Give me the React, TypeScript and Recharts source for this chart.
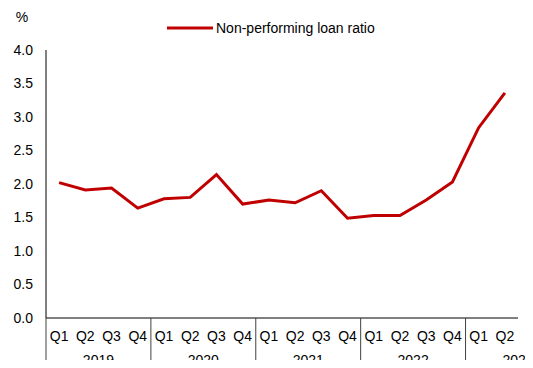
import { LineChart, Line, XAxis, YAxis, Label } from "recharts"

const years = ["2019", "2020", "2021", "2022", "2023"]
const quarters = ["Q1", "Q2", "Q3", "Q4", "Q1", "Q2", "Q3", "Q4", "Q1", "Q2", "Q3", "Q4", "Q1", "Q2", "Q3", "Q4", "Q1", "Q2"]
const nplRatio = [2.02, 1.91, 1.94, 1.64, 1.78, 1.8, 2.14, 1.7, 1.76, 1.72, 1.9, 1.49, 1.53, 1.53, 1.76, 2.03, 2.84, 3.36]
const yTicks = [0, 0.5, 1, 1.5, 2, 2.5, 3, 3.5, 4]

const RED = "#C00000"
const FONT = "'Liberation Sans', Arial, sans-serif"

const data = nplRatio.map((v, i) => ({
    key: `${years[Math.floor(i / 4)]}-${quarters[i]}`,
    quarter: quarters[i],
    year: years[Math.floor(i / 4)],
    value: v,
}))

const W = 533
const H = 368
const M = { top: 50, right: 15, left: 0, bottom: 0 }
const Y_WIDTH = 46
const X_HEIGHT = 50
const BAND = (W - M.right - Y_WIDTH) / data.length

// quarter label + year group separators below the axis
function QuarterTick(props: any) {
    const { x, y, payload } = props
    const row = data[payload.index]
    const isFirst = row.quarter === "Q1"
    const left = x - BAND / 2
    return (
        <g>
            <text x={x} y={y + 23} textAnchor="middle" fontSize={14} fill="#000" fontFamily={FONT}>
                {row.quarter}
            </text>
            {isFirst && (
                <>
                    <line x1={left} x2={left} y1={y} y2={H} stroke="#404040" strokeWidth={1} />
                    <text x={left + BAND * 2} y={y + 47} textAnchor="middle" fontSize={14} fill="#000" fontFamily={FONT}>
                        {row.year}
                    </text>
                </>
            )}
        </g>
    )
}

export default function App() {
    return (
        <div style={{ position: "relative", width: W, height: H, margin: -8, overflow: "hidden", fontFamily: FONT }}>
            <div
                style={{
                    position: "absolute",
                    top: 18,
                    left: 167,
                    display: "flex",
                    alignItems: "center",
                    fontSize: 14,
                    color: "#000",
                    lineHeight: "20px",
                }}
            >
                <svg width={46} height={6} style={{ marginRight: 3 }}>
                    <line x1={0} x2={46} y1={3} y2={3} stroke={RED} strokeWidth={3} />
                </svg>
                <span>Non-performing loan ratio</span>
            </div>
            <LineChart width={W} height={H} data={data} margin={M} style={{ overflow: "hidden" }}>
                <XAxis
                    dataKey="key"
                    interval={0}
                    height={X_HEIGHT}
                    padding={{ left: BAND / 2, right: BAND / 2 }}
                    tickLine={false}
                    tickSize={0}
                    tickMargin={0}
                    axisLine={{ stroke: "#000", strokeWidth: 1 }}
                    tick={<QuarterTick />}
                />
                <YAxis
                    domain={[0, 4]}
                    ticks={yTicks}
                    width={Y_WIDTH}
                    tickFormatter={(v: number) => v.toFixed(1)}
                    tickLine={false}
                    tickSize={6}
                    tickMargin={7}
                    axisLine={{ stroke: "#000", strokeWidth: 1 }}
                    tick={{ fill: "#000", fontSize: 14, fontFamily: FONT }}
                >
                    <Label
                        content={() => (
                            <text x={22} y={22} textAnchor="middle" fontSize={14} fill="#000" fontFamily={FONT}>
                                %
                            </text>
                        )}
                    />
                </YAxis>
                <Line
                    type="linear"
                    dataKey="value"
                    stroke={RED}
                    strokeWidth={3}
                    dot={false}
                    isAnimationActive={false}
                />
            </LineChart>
        </div>
    )
}
